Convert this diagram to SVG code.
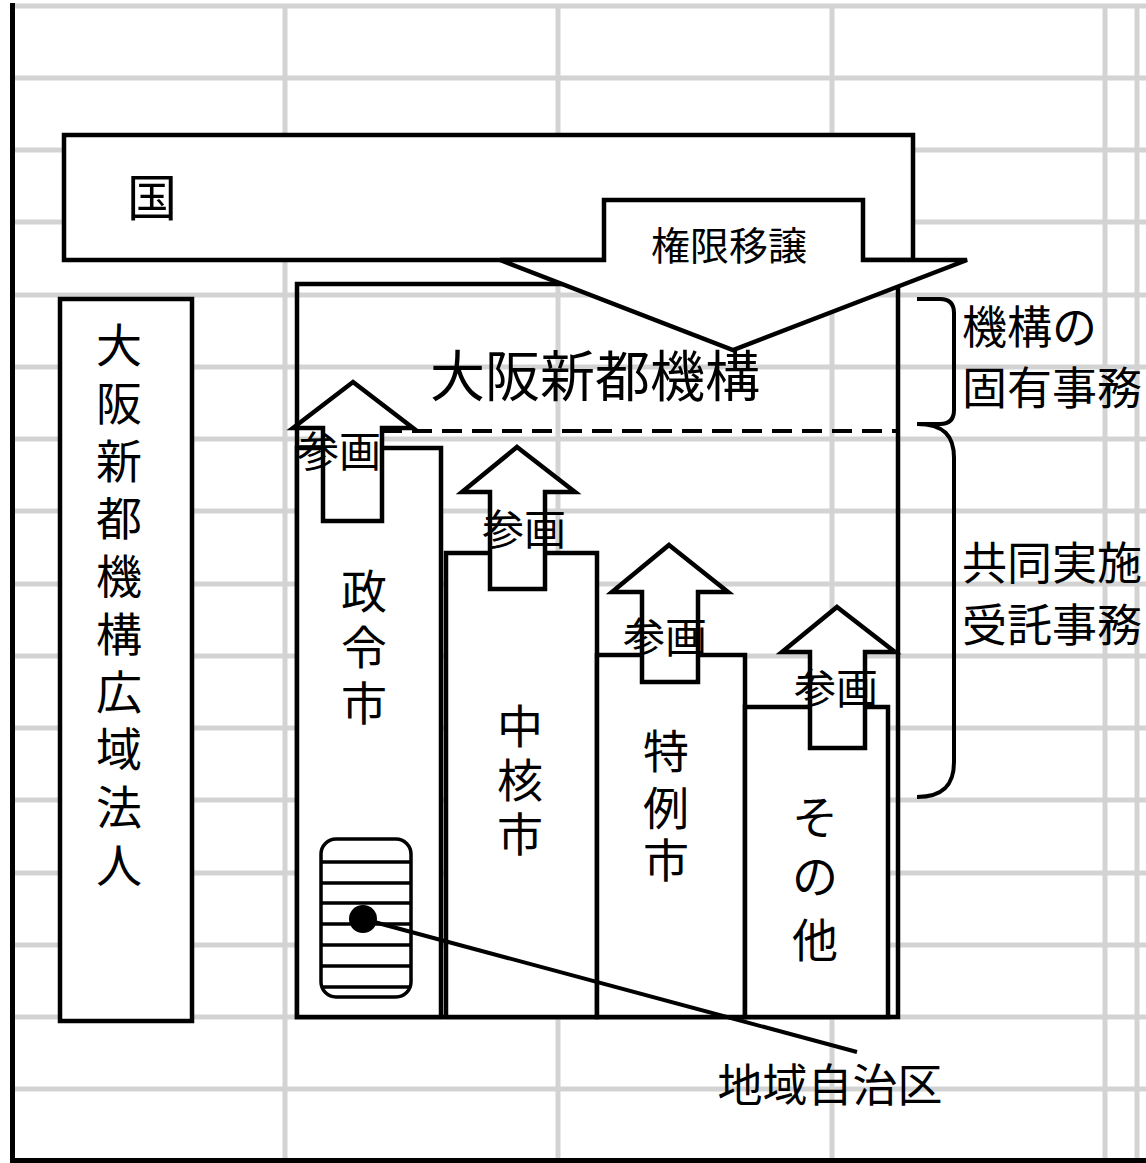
<svg xmlns="http://www.w3.org/2000/svg" width="1146" height="1163" viewBox="0 0 1146 1163">
<style>
.grid{stroke:#d3d3d3;stroke-width:5;fill:none}
.box{stroke:#000;stroke-width:4.5;fill:#fff}
.open{stroke:#000;stroke-width:4.5;fill:none}
.t{font-family:"Noto Sans CJK JP","Noto Sans CJK SC",sans-serif;fill:#000}
.m{text-anchor:middle}
</style>
<rect width="1146" height="1163" fill="#fff"/>
<g id="grid" class="grid">
<path d="M15,6H1146M15,78H1146M15,150H1146M15,222H1146M15,295H1146M15,367H1146M15,439H1146M15,511H1146M15,584H1146M15,656H1146M15,728H1146M15,800H1146M15,873H1146M15,945H1146M15,1017H1146M15,1089H1146"/>
<path d="M285,8V1158M558,8V1158M832,8V1158M1105,8V1158M1137,8V1158"/>
</g>
<rect x="10" y="3" width="5" height="1160" fill="#000"/>
<rect x="10" y="1158" width="1136" height="5" fill="#000"/>

<g id="kuni">
<rect class="box" x="64" y="135" width="849" height="125"/>
<text class="t m" x="152" y="216" font-size="50">国</text>
</g>

<g id="kouiki">
<rect class="box" x="60" y="299" width="132" height="722"/>
<g class="t m" font-size="46">
<text x="119" y="362">大</text><text x="119" y="420">阪</text><text x="119" y="478">新</text><text x="119" y="535">都</text><text x="119" y="593">機</text><text x="119" y="651">構</text><text x="119" y="709">広</text><text x="119" y="766">域</text><text x="119" y="824">法</text><text x="119" y="882">人</text>
</g>
</g>

<g id="kikou">
<rect class="open" x="297" y="284" width="601" height="733"/>
<text class="t m" x="595" y="396" font-size="55">大阪新都機構</text>
</g>

<g id="seirei">
<rect class="box" x="297" y="448" width="144" height="569"/>
<g class="t m" font-size="46"><text x="364" y="608">政</text><text x="364" y="664">令</text><text x="364" y="720">市</text></g>
</g>
<g id="chukaku">
<rect class="box" x="446" y="553" width="151" height="464"/>
<g class="t m" font-size="46"><text x="520" y="743">中</text><text x="520" y="797">核</text><text x="520" y="851">市</text></g>
</g>
<g id="tokurei">
<rect class="box" x="597" y="655" width="148" height="362"/>
<g class="t m" font-size="46"><text x="666" y="768">特</text><text x="666" y="825">例</text><text x="666" y="877">市</text></g>
</g>
<g id="sonota">
<rect class="box" x="745" y="707" width="143" height="310"/>
<g class="t m" font-size="46"><text x="815" y="834">そ</text><text x="815" y="893">の</text><text x="815" y="957">他</text></g>
</g>

<g id="chiiki-icon">
<rect x="321" y="839" width="90" height="158" rx="15" fill="#fff" stroke="#000" stroke-width="3.5"/>
<path d="M322,862H410M322,883H410M322,903H410M322,924H410M322,945H410M322,966H410M322,987H410" stroke="#000" stroke-width="3.5"/>
</g>

<g id="connectors">
<path d="M382,431H897" stroke="#000" stroke-width="4" stroke-dasharray="20,10" fill="none"/>
<path d="M917,299H940Q954,299 954,313V410Q954,424 940,424H917" stroke="#000" stroke-width="4" fill="none"/>
<path d="M917,424C944,424 954,436 954,458V762C954,784 944,797 917,797" stroke="#000" stroke-width="4" fill="none"/>
<line x1="363" y1="919" x2="857" y2="1052" stroke="#000" stroke-width="4"/>
<circle cx="363" cy="919" r="14" fill="#000"/>
</g>

<g id="jouto">
<path class="box" d="M604,200H863V260H967L733,350L500,260H604Z"/>
<text class="t m" x="729" y="260" font-size="39">権限移譲</text>
</g>

<g id="sankaku1">
<path class="box" d="M353,382L413,428H382V521H323V428H293Z"/>
<text class="t m" x="339" y="467" font-size="42">参画</text>
</g>
<g id="sankaku2">
<path class="box" d="M517,447L575,492H545V589H490V492H462Z"/>
<text class="t m" x="524" y="545" font-size="42">参画</text>
</g>
<g id="sankaku3">
<path class="box" d="M669,545L728,592H698V682H642V592H612Z"/>
<text class="t m" x="665" y="653" font-size="42">参画</text>
</g>
<g id="sankaku4">
<path class="box" d="M837,607L895,652H865V748H810V652H782Z"/>
<text class="t m" x="836" y="704" font-size="42">参画</text>
</g>

<g id="labels" class="t" font-size="45">
<text x="962" y="344">機構の</text>
<text x="962" y="405">固有事務</text>
<text x="962" y="580">共同実施</text>
<text x="962" y="642">受託事務</text>
<text x="830" y="1102" text-anchor="middle">地域自治区</text>
</g>
</svg>
